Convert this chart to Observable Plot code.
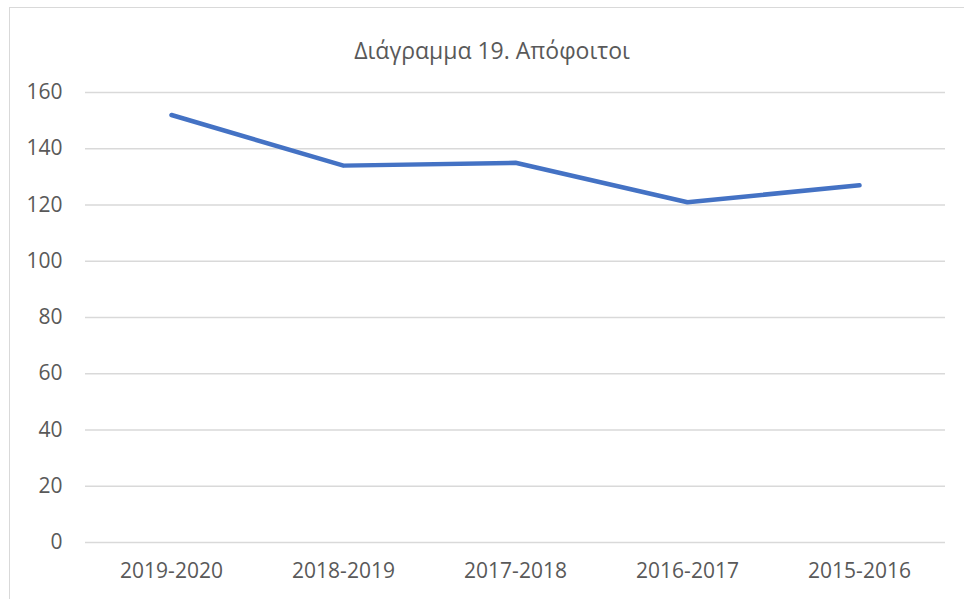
<!DOCTYPE html>
<html>
<head>
<meta charset="utf-8">
<script src="https://cdn.jsdelivr.net/npm/d3@7"></script>
<script src="https://cdn.jsdelivr.net/npm/@observablehq/plot@0.6"></script>
<style>
  html, body { margin: 0; padding: 0; background: #fff; }
  #wrap { position: relative; width: 964px; height: 599px; overflow: hidden; font-family: "Open Sans", sans-serif; }
  #frame { position: absolute; left: 9px; top: 7px; width: 1000px; height: 700px; border: 1px solid #d9d9d9; box-sizing: border-box; }
  #title { position: absolute; left: 10px; top: 39px; width: 964px; height: 23px; line-height: 23px; text-align: center; font-size: 23px; color: #595959; white-space: nowrap; }
  #chart { position: absolute; left: 0; top: 0; }
</style>
</head>
<body>
<div id="wrap">
  <div id="frame"></div>
  <div id="chart"></div>
  <div id="title">Διάγραμμα 19. Απόφοιτοι</div>
</div>
<script>
const years = ["2019-2020", "2018-2019", "2017-2018", "2016-2017", "2015-2016"];
const graduates = [152, 134, 135, 121, 127];
const yTicks = [0, 20, 40, 60, 80, 100, 120, 140, 160];

const data = years.map((year, i) => ({year, value: graduates[i]}));

const chart = Plot.plot({
  width: 964,
  height: 599,
  marginLeft: 85,
  marginRight: 19,
  marginTop: 92,
  marginBottom: 57,
  style: {fontFamily: "'Open Sans', sans-serif", fontSize: "21px", color: "#595959", background: "transparent"},
  x: {type: "point", domain: years, padding: 0.5, label: null},
  y: {domain: [0, 160], ticks: yTicks, label: null},
  marks: [
    Plot.gridY(yTicks, {stroke: "#d9d9d9", strokeOpacity: 1, strokeWidth: 1.5}),
    Plot.axisY(yTicks, {tickSize: 0, tickPadding: 23, label: null, fill: "#595959"}),
    Plot.axisX({tickSize: 0, tickPadding: 21, label: null, fill: "#595959"}),
    Plot.line(data, {x: "year", y: "value", stroke: "#4472C4", strokeWidth: 4.5, strokeLinecap: "round", strokeLinejoin: "round"})
  ]
});
document.getElementById("chart").appendChild(chart);
</script>
</body>
</html>
